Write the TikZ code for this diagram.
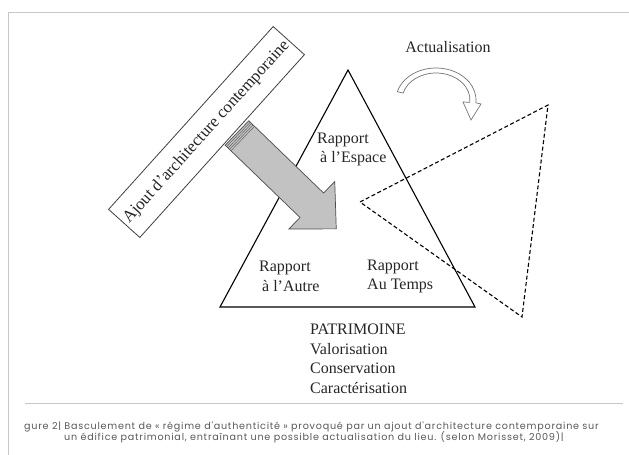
\documentclass[tikz,border=0pt]{standalone}
\usepackage{fontspec}
\usetikzlibrary{calc}
\setmainfont{Liberation Serif}
\newfontfamily\capfont[LetterSpace=8]{Poppins}
\begin{document}
\begin{tikzpicture}[x=1pt,y=1pt,
  lbl/.style={font=\fontsize{16}{19.5}\selectfont, text=black!85, inner sep=0pt, align=left, anchor=west},
  capt/.style={font=\capfont\fontsize{9.6}{11}\selectfont, text=black!65, inner sep=0pt, anchor=west},
  frameline/.style={draw=black!22, line width=0.8pt},
  tri/.style={draw=black, line width=1.1pt, line join=miter},
  dtri/.style={draw=black, line width=1.1pt, dash pattern=on 4pt off 2.5pt},
  bigarrow/.style={draw=black!70, fill=black!24, line width=0.7pt, line join=miter},
  hollowarrow/.style={draw=black!55, fill=white, line width=0.7pt},
  tiltbox/.style={draw=black!75, fill=white, line width=0.8pt, minimum width=246pt, minimum height=42pt,
    inner sep=0pt, font=\fontsize{16.8}{18}\selectfont, text=black!85}]
\useasboundingbox (0,0) rectangle (629,-455);
\fill[white] (0,0) rectangle (629,-455);

% frame
\draw[frameline] (8,-455) -- (8,-12) -- (629,-12);
\draw[frameline] (25,-403) -- (623,-403);

% main triangle
\coordinate (A) at (348,-70);
\coordinate (B) at (220,-307);
\coordinate (C) at (475,-307);
\draw[tri] (A) -- (B) -- (C) -- cycle;

% dashed triangle
\coordinate (D) at (360,-202);
\coordinate (E) at (548,-105);
\coordinate (F) at (522,-317);
\draw[dtri] (D) -- (E) -- (F) -- cycle;

% tilted box
\node[tiltbox, rotate=48] (ajout) at (206.5,-132) {Ajout d'architecture contemporaine};

% big gray arrow
\begin{scope}[shift={(237,-133)}, rotate=-44]
  \draw[bigarrow] (0,17) -- (104,17) -- (104,33) -- (138,0) -- (104,-33) -- (104,-17) -- (0,-17) -- cycle;
  \foreach \s in {2,4,6,8}
    \draw[black!60, line width=0.5pt] (\s,17) -- (\s,-17);
\end{scope}

% actualisation curved arrow
\coordinate (ac) at (436,-100);
\draw[hollowarrow] ($(ac)+(165:40pt and 32pt)$)
  arc[start angle=165, end angle=-5, x radius=40pt, y radius=32pt]
  -- (481,-104) -- (471,-120) -- (463,-102)
  -- ($(ac)+(-5:34pt and 27pt)$)
  arc[start angle=-5, end angle=165, x radius=34pt, y radius=27pt] -- cycle;

% labels
\node[lbl, anchor=center] (actu) at (448,-47) {Actualisation};
\node[lbl] (espace) at (317,-149.5) {Rapport\\\hspace{3pt}à l'Espace};
\node[lbl] (autre) at (259,-276.5) {Rapport\\\hspace{3pt}à l'Autre};
\node[lbl] (temps) at (367,-276.5) {Rapport\\Au Temps};
\node[lbl, anchor=north west] (patri) at (310,-324) {PATRIMOINE\\Valorisation\\Conservation\\Caractérisation};

% caption
\node[capt] (cap1) at (24,-427) {gure 2| Basculement de « régime d'authenticité » provoqué par un ajout d'architecture contemporaine sur};
\node[capt] (cap2) at (64,-437.5) {un édifice patrimonial, entraînant une possible actualisation du lieu. (selon Morisset, 2009)|};
\end{tikzpicture}
\end{document}
